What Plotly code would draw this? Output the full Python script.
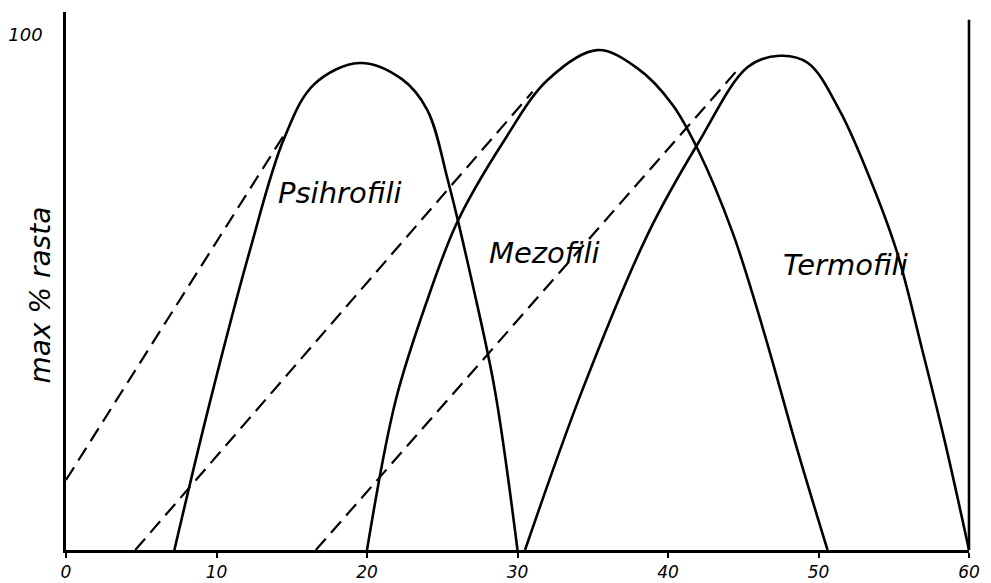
import plotly.graph_objects as go

# curves (temperature degC, % of max growth)
psihro_x = [7.2, 9.5, 12.2, 14.5, 16.5, 19.5, 22.3, 24.0, 25.4, 27.0, 28.5, 30.0]
psihro_y = [0, 28.0, 58.0, 80.0, 90.5, 94.6, 91.5, 85.5, 71.5, 51.8, 31.0, 0]

mezo_x = [20.0, 21.9, 24.0, 26.0, 29.0, 32.0, 35.3, 38.0, 40.3, 42.0, 44.3, 46.4, 48.6, 50.6]
mezo_y = [0, 29.0, 48.5, 63.7, 79.0, 91.3, 97.1, 93.5, 86.5, 77.7, 61.6, 42.1, 19.4, 0]

termo_x = [30.5, 34.3, 38.7, 42.0, 45.3, 47.4, 49.3, 51.4, 53.3, 55.2, 56.9, 58.4, 60.0]
termo_y = [0, 31.0, 61.6, 79.0, 93.8, 96.0, 94.6, 85.4, 73.0, 58.0, 38.8, 21.0, 0]

# dashed guide lines (start, end)
dash_x = [[0, 14.7], [4.6, 31.0], [16.6, 44.6]]
dash_y = [[13.6, 81.6], [0, 89.0], [0, 93.2]]

x_ticks = [0, 10, 20, 30, 40, 50, 60]
x_labels = ["0", "10", "20", "30", "40", "50", "60"]

labels = ["Psihrofili", "Mezofili", "Termofili"]
label_x = [18.2, 31.8, 51.8]
label_y = [69.3, 57.7, 55.3]

FONT = "DejaVu Sans"

fig = go.Figure()

for xs, ys in [(psihro_x, psihro_y), (mezo_x, mezo_y), (termo_x, termo_y)]:
    fig.add_trace(go.Scatter(
        x=xs, y=ys, mode="lines",
        line=dict(color="black", width=2.6, shape="spline", smoothing=1.0),
        showlegend=False, hoverinfo="skip",
    ))

for xs, ys in zip(dash_x, dash_y):
    fig.add_trace(go.Scatter(
        x=xs, y=ys, mode="lines",
        line=dict(color="black", width=2.2, dash="15px,8px"),
        showlegend=False, hoverinfo="skip",
    ))

for txt, lx, ly in zip(labels, label_x, label_y):
    fig.add_annotation(
        x=lx, y=ly, text=txt, showarrow=False,
        font=dict(family=FONT, size=29, color="black", style="italic"),
    )

# y axis title drawn by hand, left of the "100"
fig.add_annotation(
    xref="paper", yref="paper", x=-44 / 903, y=0.474,
    text="max % rasta", showarrow=False, textangle=-90,
    font=dict(family=FONT, size=28, color="black", style="italic"),
)

# right-hand frame line
fig.add_shape(type="line", xref="paper", yref="y", x0=1, x1=1, y0=0, y1=103,
              line=dict(color="black", width=2.6))

# the page body adds an 8px offset, so margins are shifted to compensate
fig.update_layout(
    width=991, height=583,
    margin=dict(l=58, r=30, t=4, b=41),
    plot_bgcolor="white", paper_bgcolor="white",
    xaxis=dict(
        range=[0, 60], showgrid=False, zeroline=False, automargin=False,
        showline=True, linecolor="black", linewidth=2.6,
        tickvals=x_ticks, ticktext=x_labels,
        ticks="outside", ticklen=5, tickwidth=2, tickcolor="black",
        tickfont=dict(family=FONT, size=17, color="black", style="italic"),
    ),
    yaxis=dict(
        range=[0, 104.5], showgrid=False, zeroline=False, automargin=False,
        showline=True, linecolor="black", linewidth=2.6,
        tickvals=[100], ticktext=["100"], ticks="",
        ticklabelstandoff=17,
        tickfont=dict(family=FONT, size=18, color="black", style="italic"),
    ),
)

fig.write_html("out.html")
